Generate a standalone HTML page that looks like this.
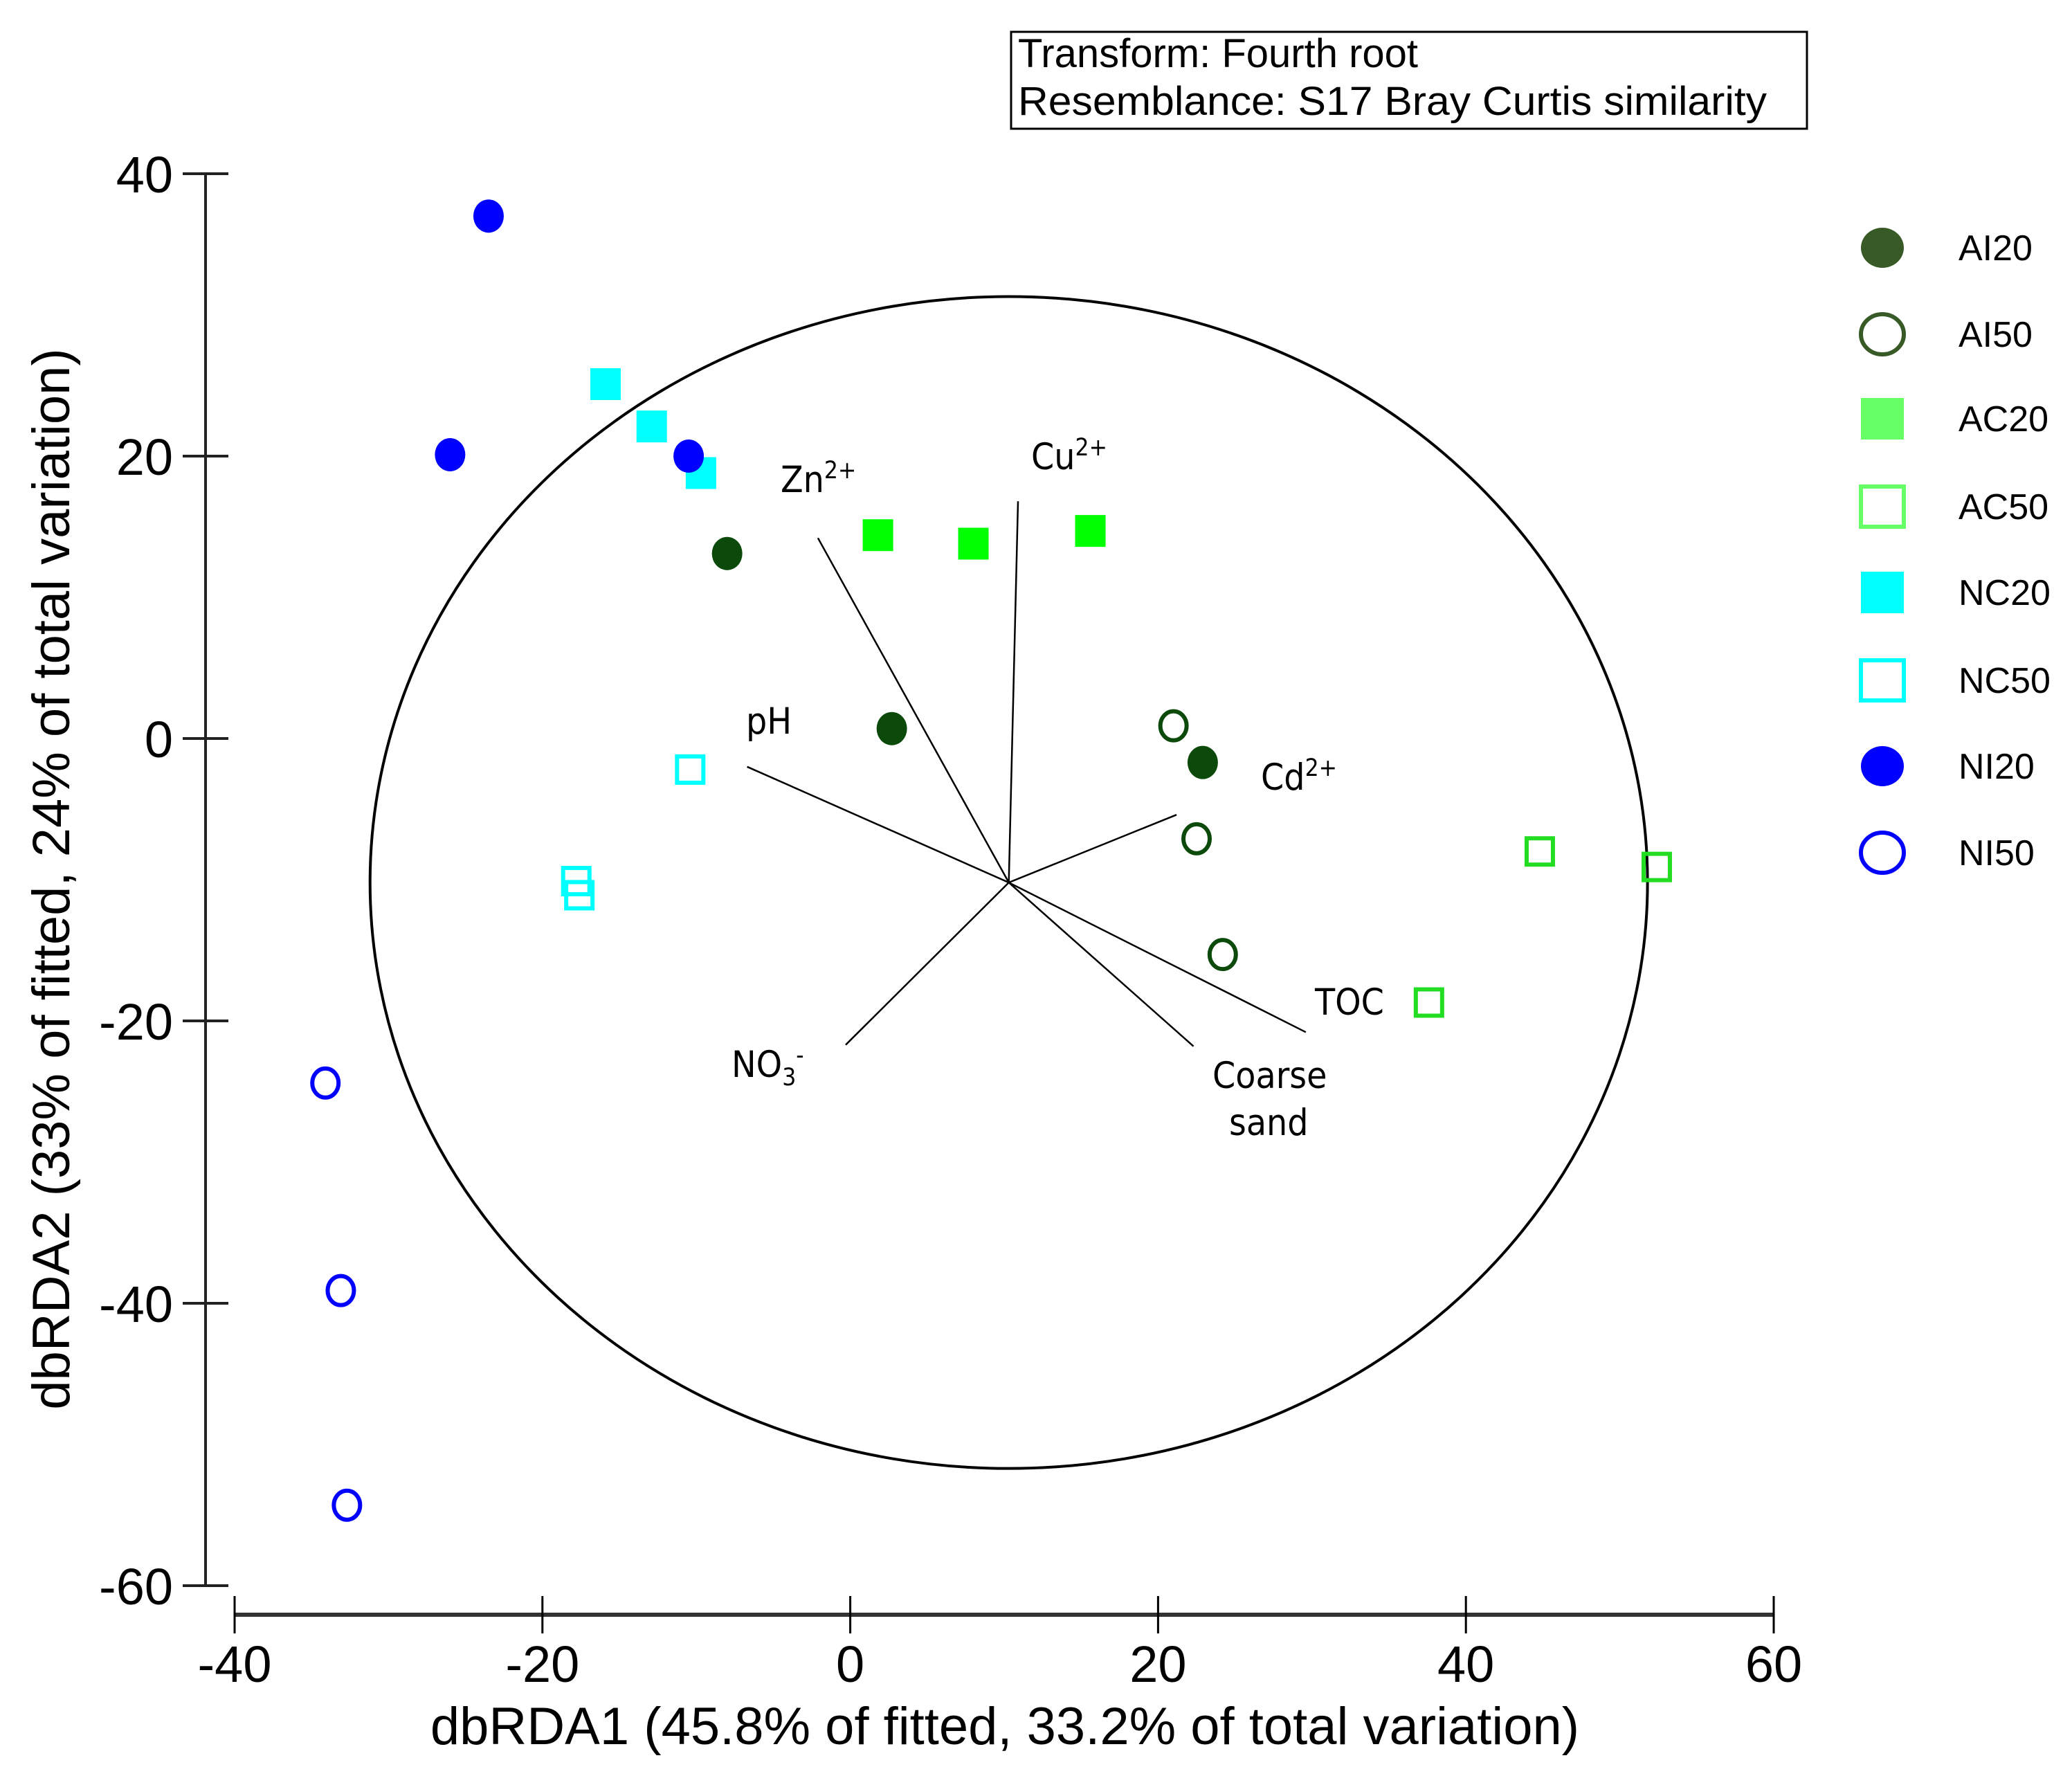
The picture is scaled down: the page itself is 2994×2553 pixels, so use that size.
<!DOCTYPE html>
<html><head><meta charset="utf-8"><style>
html,body{margin:0;padding:0;background:#fff}
svg{display:block}
text{font-family:"Liberation Sans",sans-serif}
.lbl{font-family:"DejaVu Sans Condensed","Liberation Sans",sans-serif;font-size:53px;fill:#000}
</style></head><body>
<svg id="chart" width="2994" height="2553" viewBox="0 0 2994 2553" xmlns="http://www.w3.org/2000/svg">
<g id="g"></g>
</svg>
<script>
const groups=["AI20","AI50","AC20","AC50","NC20","NC50","NI20","NI50"];
const ai20x=[-8,2.7,22.9], ai20y=[13.1,0.7,-1.7];
const ai50x=[21,22.5,24.2], ai50y=[0.9,-7.1,-15.3];
const ac20x=[1.8,8,15.6], ac20y=[14.4,13.8,14.7];
const ac50x=[44.8,52.4,37.6], ac50y=[-8,-9.1,-18.7];
const nc20x=[-15.9,-12.9,-9.7], nc20y=[25.1,22.1,18.8];
const nc50x=[-10.4,-17.8,-17.6], nc50y=[-2.2,-10.1,-11.1];
const ni20x=[-23.5,-26,-10.5], ni20y=[37,20.1,20];
const ni50x=[-34.1,-33.1,-32.7], ni50y=[-24.4,-39.1,-54.3];
const xTicks=[-40,-20,0,20,40,60];
const yTicks=[40,20,0,-20,-40,-60];
const vecNames=["Zn","Cu","pH","Cd","TOC","Coarse sand","NO3"];
const vecX=[-2.1,10.9,-6.7,21.2,29.6,22.3,-0.3];
const vecY=[14.2,16.8,-2.0,-5.4,-20.8,-21.8,-21.7];
const circleCx=10.3, circleCy=-10.2, circleR=41.5;

const X=v=>339+(v+40)*22.24;
const Y=v=>1067-v*20.4;
const NS="http://www.w3.org/2000/svg";
const g=document.getElementById('g');
function el(t,a,txt){const e=document.createElementNS(NS,t);for(const k in a)e.setAttribute(k,a[k]);if(txt!==undefined)e.textContent=txt;g.appendChild(e);return e;}

// header box
let e=el('rect',{x:1461,y:46,width:1150,height:140,fill:'none',stroke:'#000','stroke-width':3});


e=el('text',{x:1471,y:97,'font-size':58},'Transform: Fourth root');


e=el('text',{x:1471,y:166,'font-size':58,textLength:1082,lengthAdjust:'spacingAndGlyphs'},'Resemblance: S17 Bray Curtis similarity');



// y axis
e=el('line',{x1:297,y1:Y(40),x2:297,y2:Y(-60),stroke:'#222','stroke-width':4});


yTicks.forEach(t=>{
 let a=el('line',{x1:264,y1:Y(t),x2:330,y2:Y(t),stroke:'#222','stroke-width':4});
 
 
 let b=el('text',{x:250,y:Y(t)+27,'font-size':74,'text-anchor':'end'},String(t));
 
 
});
e=el('text',{x:0,y:0,'font-size':76,'text-anchor':'middle',transform:'translate(100,1270) rotate(-90)'},'dbRDA2 (33% of fitted, 24% of total variation)');



// x axis
e=el('line',{x1:X(-40),y1:2333,x2:X(60),y2:2333,stroke:'#333','stroke-width':6});


xTicks.forEach(t=>{
 let a=el('line',{x1:X(t),y1:2306,x2:X(t),y2:2360,stroke:'#000','stroke-width':3});
 
 
 let b=el('text',{x:X(t),y:2430,'font-size':74,'text-anchor':'middle'},String(t));
 
 
});
e=el('text',{x:1452,y:2520,'font-size':76,'text-anchor':'middle'},'dbRDA1 (45.8% of fitted, 33.2% of total variation)');



// circle
e=el('ellipse',{cx:X(circleCx),cy:Y(circleCy),rx:circleR*22.24,ry:circleR*20.4,fill:'none',stroke:'#000','stroke-width':4});



// vectors
vecNames.forEach((n,i)=>{
 let a=el('line',{x1:X(circleCx),y1:Y(circleCy),x2:X(vecX[i]),y2:Y(vecY[i]),stroke:'#000','stroke-width':2.5});
 
 
});
function lab(x,y,html,name){
 const t=document.createElementNS(NS,'text');
 t.setAttribute('x',x);t.setAttribute('y',y);t.setAttribute('class','lbl');
 t.innerHTML=html;g.appendChild(t);
 
 
}
lab(1128,711,'Zn<tspan dy="-20" font-size="35">2+</tspan>','label-zn');
lab(1490,678,'Cu<tspan dy="-20" font-size="35">2+</tspan>','label-cu');
lab(1078,1060,'pH','label-ph');
lab(1822,1141,'Cd<tspan dy="-20" font-size="35">2+</tspan>','label-cd');
lab(1900,1466,'TOC','label-toc');
lab(1752,1572,'Coarse','label-coarse');
lab(1776,1640,'sand','label-sand');
lab(1057,1556,'NO<tspan dy="12" font-size="35">3</tspan><tspan dy="-32" font-size="35">-</tspan>','label-no3');

// points
const dark='#0b4a0b', lime='#00ff00', cyan='#00ffff', blue='#0000ff';
function pts(xs,ys,shape,fillc,stroke,name){
 xs.forEach((v,i)=>{
  let p;
  if(shape==='c') p=el('ellipse',{cx:X(v),cy:Y(ys[i]),rx:fillc?22:19,ry:fillc?24:21,fill:fillc||'none',stroke:stroke,'stroke-width':fillc?0:6});
  else p=fillc?el('rect',{x:X(v)-22,y:Y(ys[i])-23,width:44,height:46,fill:fillc}):el('rect',{x:X(v)-19,y:Y(ys[i])-19,width:38,height:38,fill:'none',stroke:stroke,'stroke-width':6});
  
  
 });
}
pts(ai20x,ai20y,'c',dark,dark,'point-ai20');
pts(ai50x,ai50y,'c',null,dark,'point-ai50');
pts(ac20x,ac20y,'s',lime,lime,'point-ac20');
pts(ac50x,ac50y,'s',null,'#22dd22','point-ac50');
pts(nc20x,nc20y,'s',cyan,cyan,'point-nc20');
pts(nc50x,nc50y,'s',null,cyan,'point-nc50');
pts(ni20x,ni20y,'c',blue,blue,'point-ni20');
pts(ni50x,ni50y,'c',null,blue,'point-ni50');

// legend
const legShape=['c','c','s','s','s','s','c','c'];
const legFill=['#375a27',null,'#66ff66',null,cyan,null,blue,null];
const legStroke=['#375a27','#375a27','#66ff66','#66ff66',cyan,cyan,blue,blue];
const legY=[358,483,605,732,856,983,1107,1232];
groups.forEach((n,i)=>{
 const cx=2720, cy=legY[i];
 let m;
 if(legShape[i]==='c') m=legFill[i]?el('ellipse',{cx,cy,rx:31,ry:29,fill:legFill[i]}):el('ellipse',{cx,cy,rx:31,ry:29,fill:'none',stroke:legStroke[i],'stroke-width':6});
 else m=legFill[i]?el('rect',{x:cx-31,y:cy-30,width:62,height:60,fill:legFill[i]}):el('rect',{x:cx-31,y:cy-29,width:62,height:58,fill:'none',stroke:legStroke[i],'stroke-width':6});
 
 
 let t=el('text',{x:2830,y:cy+18,'font-size':52,'font-family':'DejaVu Sans Condensed, Liberation Sans, sans-serif'},n);
 
 
});
</script>
</body></html>
